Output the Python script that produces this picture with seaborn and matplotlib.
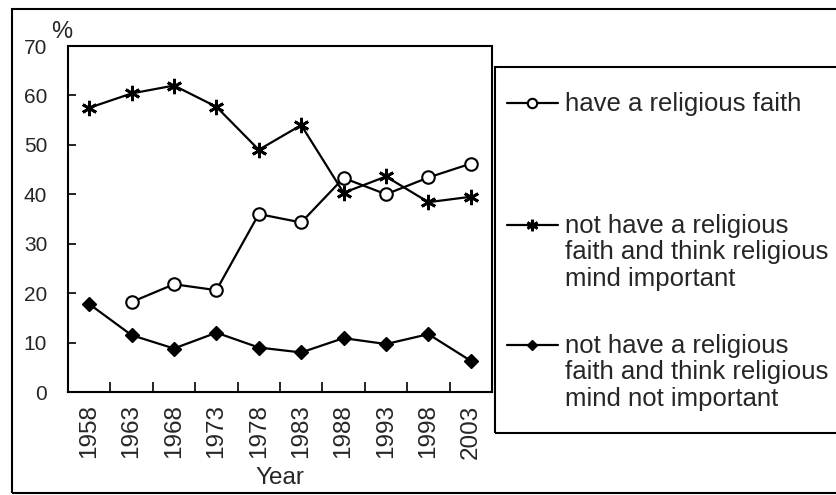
import matplotlib
matplotlib.use("Agg")
import matplotlib.pyplot as plt
from matplotlib.lines import Line2D
from matplotlib.patches import Rectangle
import numpy as np
import pandas as pd
import seaborn as sns

# Survey results (%), one value per survey year
years = [1958, 1963, 1968, 1973, 1978, 1983, 1988, 1993, 1998, 2003]
have_faith = [np.nan, 18.2, 21.8, 20.6, 36.0, 34.3, 43.3, 40.0, 43.4, 46.2]
no_faith_important = [57.5, 60.4, 62.0, 57.7, 49.0, 54.0, 40.3, 43.6, 38.4, 39.5]
no_faith_not_important = [17.8, 11.5, 8.8, 12.0, 9.0, 8.0, 10.9, 9.7, 11.7, 6.3]

series_labels = [
    "have a religious faith",
    "not have a religious\nfaith and think religious\nmind important",
    "not have a religious\nfaith and think religious\nmind not important",
]
y_ticks = [0, 10, 20, 30, 40, 50, 60, 70]

sns.set_style("ticks")
plt.rcParams["font.family"] = ["Liberation Sans", "DejaVu Sans"]

W, H = 837, 495
fig = plt.figure(figsize=(W / 100, H / 100), dpi=100)


def fx(px):
    return px / W


def fy(py):
    return 1 - py / H


ax = fig.add_axes([fx(68), fy(392), fx(492) - fx(68), fy(46) - fy(392)])

df = pd.DataFrame({
    "Year": years * 3,
    "Percent": have_faith + no_faith_important + no_faith_not_important,
    "series": sum([[lab] * len(years) for lab in series_labels], []),
}).dropna()

styles = [
    dict(marker="o", markersize=9, markerfacecolor="white", markeredgecolor="black", markeredgewidth=1.5),
    dict(marker=(6, 2, 0), markersize=11, markeredgecolor="black", markeredgewidth=2.0),
    dict(marker="D", markersize=7, markerfacecolor="black", markeredgecolor="black", markeredgewidth=1),
]

for lab, st in zip(series_labels, styles):
    sub = df[df["series"] == lab]
    sns.lineplot(data=sub, x="Year", y="Percent", ax=ax, color="black",
                 linewidth=1.6, legend=False, **st)

ax.set_xlim(years[0] - 2.5, years[-1] + 2.5)
ax.set_ylim(0, 70)
ax.set_yticks(y_ticks)
ax.set_yticklabels([str(v) for v in y_ticks])
ax.set_xticks(years)
ax.set_xticklabels([str(y) for y in years], rotation=90)
ax.set_xticks([y + 2.5 for y in years[:-1]], minor=True)

ax.tick_params(axis="x", which="major", length=0, pad=9, labelsize=17.5)
ax.tick_params(axis="x", which="minor", direction="in", length=7, width=1.2, color="black")
ax.tick_params(axis="y", direction="in", length=6, width=1.2, pad=15, labelsize=15, color="black")

for sp in ax.spines.values():
    sp.set_visible(True)
    sp.set_linewidth(1.5)
    sp.set_color("black")

ax.set_xlabel("Year", fontsize=17.5, labelpad=6)
ax.set_ylabel("")
fig.text(fx(62), fy(32), "%", fontsize=17, ha="center", va="center")

# Outer frame and legend box
fig.patches.append(Rectangle((fx(12), fy(493)), 1.2, fy(9) - fy(493), transform=fig.transFigure,
                             fill=False, edgecolor="black", linewidth=1.5, clip_on=False))
fig.patches.append(Rectangle((fx(495), fy(433)), 1.2, fy(67) - fy(433), transform=fig.transFigure,
                             fill=False, edgecolor="black", linewidth=1.5, clip_on=False))

# Legend entries: handle sits beside the first line of each label
entry_y = [103, 225, 345]
for lab, st, yy in zip(series_labels, styles, entry_y):
    fig.lines.append(Line2D([fx(507), fx(558)], [fy(yy), fy(yy)], transform=fig.transFigure,
                            color="black", linewidth=1.6))
    mst = dict(st)
    mst["markersize"] = st["markersize"] * 0.75
    fig.lines.append(Line2D([fx(532)], [fy(yy)], transform=fig.transFigure,
                            color="black", linestyle="none", **mst))
    fig.text(fx(565), fy(yy - 11), lab, fontsize=18.5, ha="left", va="top",
             linespacing=1.13)

fig.savefig("out.png", dpi=100)
